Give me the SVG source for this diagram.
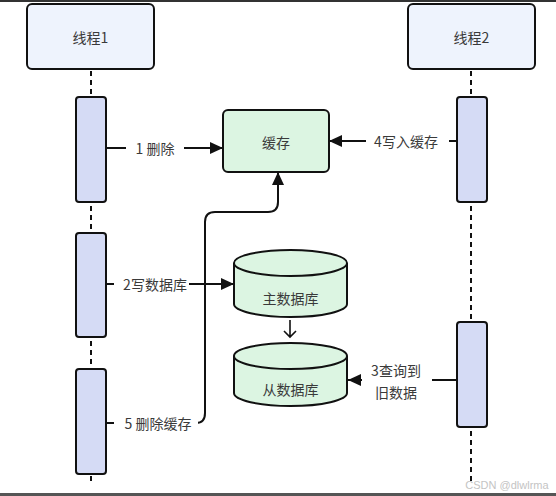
<svg xmlns="http://www.w3.org/2000/svg" width="556" height="496" viewBox="0 0 556 496">
<defs>
<style>
.thread{fill:#eef3fd;stroke:#111;stroke-width:2}
.act{fill:#d5dbf5;stroke:#111;stroke-width:2}
.store{fill:#dcf5e2;stroke:#111;stroke-width:2}
.life{stroke:#111;stroke-width:2;stroke-dasharray:5 4;fill:none}
.conn{stroke:#111;stroke-width:2;fill:none}
.t{font-family:"Noto Sans CJK SC","Noto Sans",sans-serif;font-size:14px;fill:#3a3a3a;text-anchor:middle;dominant-baseline:central}
.bg{fill:#fff}
</style>
<marker id="ah" markerUnits="userSpaceOnUse" markerWidth="14" markerHeight="12" refX="13" refY="6" orient="auto">
<path d="M0,0 L13,6 L0,12 Z" fill="#111"/>
</marker>
</defs>
<rect x="0" y="0" width="556" height="2" fill="#333"/>
<rect x="0" y="493" width="556" height="3" fill="#555"/>
<g id="lifelines">
<line class="life" x1="91" y1="71" x2="91" y2="482"/>
<line class="life" x1="471" y1="71" x2="471" y2="482"/>
</g>
<g id="thread1"><rect class="thread" x="27" y="4" width="127" height="65" rx="5"/><text class="t" x="90.5" y="37">线程1</text></g>
<g id="thread2"><rect class="thread" x="408" y="4" width="127" height="65" rx="5"/><text class="t" x="471.5" y="37">线程2</text></g>
<g id="act1"><rect class="act" x="76" y="97" width="30" height="105" rx="3"/></g>
<g id="act2"><rect class="act" x="76" y="233" width="30" height="104" rx="3"/></g>
<g id="act3"><rect class="act" x="76" y="369" width="30" height="105" rx="3"/></g>
<g id="act4"><rect class="act" x="457" y="97" width="30" height="105" rx="3"/></g>
<g id="act5"><rect class="act" x="457" y="322" width="30" height="105" rx="3"/></g>
<g id="cache"><rect class="store" x="223" y="110" width="106" height="62" rx="5"/><text class="t" x="276" y="142">缓存</text></g>
<g id="master">
<path class="store" d="M234,263 A56.5,13 0 0 1 347,263 V304 A56.5,13 0 0 1 234,304 Z"/>
<path class="conn" d="M234,263 A56.5,13 0 0 0 347,263"/>
<text class="t" x="290.5" y="298">主数据库</text>
</g>
<g id="slave">
<path class="store" d="M234,356 A56.5,13 0 0 1 347,356 V393 A56.5,13 0 0 1 234,393 Z"/>
<path class="conn" d="M234,356 A56.5,13 0 0 0 347,356"/>
<text class="t" x="290.5" y="389">从数据库</text>
</g>
<g id="connectors">
<line class="conn" x1="106" y1="148" x2="223" y2="148" marker-end="url(#ah)"/>
<rect class="bg" x="126" y="139" width="58" height="18"/>
<text class="t" x="155" y="148">1 删除</text>
<line class="conn" x1="457" y1="141" x2="329" y2="141" marker-end="url(#ah)"/>
<rect class="bg" x="366" y="132" width="83" height="18"/>
<text class="t" x="406" y="141">4写入缓存</text>
<line class="conn" x1="106" y1="284" x2="234" y2="284" marker-end="url(#ah)"/>
<rect class="bg" x="114" y="275" width="75" height="18"/>
<text class="t" x="155" y="284">2写数据库</text>
<line class="conn" x1="457" y1="380" x2="348" y2="380" marker-end="url(#ah)"/>
<rect class="bg" x="362" y="360" width="70" height="42"/>
<text class="t" x="396" y="370">3查询到</text>
<text class="t" x="396" y="392">旧数据</text>
<path class="conn" d="M106,423 H196 Q205,423 205,413 V222 Q205,212 215,212 H268 Q278,212 278,202 V172" marker-end="url(#ah)"/>
<rect class="bg" x="114" y="414" width="84" height="18"/>
<text class="t" x="158" y="423">5 删除缓存</text>
<path class="conn" style="stroke-width:1.6" d="M290,320 V337 M284,331 L290,337 L296,331"/>
</g>
<text x="507" y="485" style="font-family:'Liberation Sans',sans-serif;font-size:11px;fill:#c4c4c4;text-anchor:middle;dominant-baseline:central">CSDN @dlwlrma</text>
</svg>
